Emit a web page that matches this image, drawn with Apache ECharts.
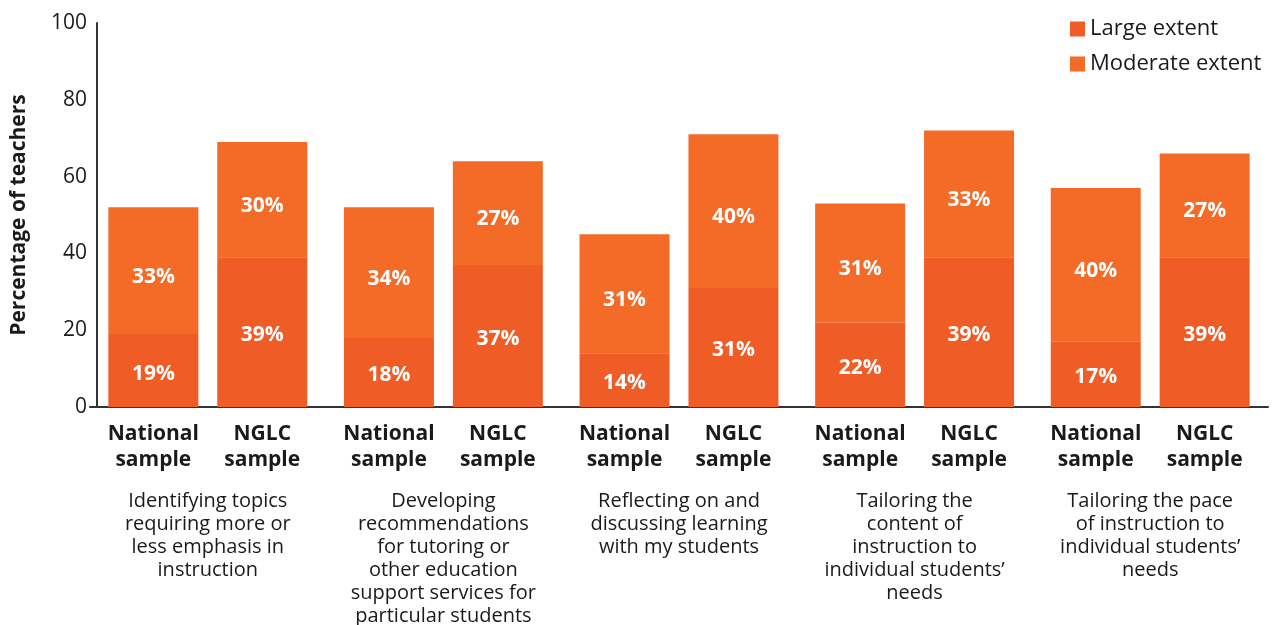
<!DOCTYPE html>
<html>
<head>
<meta charset="utf-8">
<script src="https://cdn.jsdelivr.net/npm/echarts@6/dist/echarts.min.js"></script>
<style>
  html, body { margin: 0; padding: 0; background: #fff; }
  #chart { width: 1279px; height: 625px; }
</style>
</head>
<body>
<div id="chart"></div>
<script>
// Activities teachers use data for (one group of two bars each)
const activities = [
  'Identifying topics\nrequiring more or\nless emphasis in\ninstruction',
  'Developing\nrecommendations\nfor tutoring or\nother education\nsupport services for\nparticular students',
  'Reflecting on and\ndiscussing learning\nwith my students',
  'Tailoring the\ncontent of\ninstruction to\nindividual students\u2019\nneeds',
  'Tailoring the pace\nof instruction to\nindividual students\u2019\nneeds'
];
const sampleNames = ['National\nsample', 'NGLC\nsample'];

// Percentage of teachers, by sample and extent
const nationalLarge = [19, 18, 14, 22, 17];
const nationalModerate = [33, 34, 31, 31, 40];
const nglcLarge = [39, 37, 31, 39, 39];
const nglcModerate = [30, 27, 40, 33, 27];

const yTicks = [0, 20, 40, 60, 80, 100];

const COLOR_LARGE = '#f05c26';
const COLOR_MODERATE = '#f36b27';
const FONT = '"Open Sans", "Noto Sans", sans-serif';

function valueLabel(dy) {
  return {
    show: true,
    position: 'inside',
    offset: [0, dy],
    color: '#fff',
    fontFamily: FONT,
    fontWeight: 'bold',
    fontSize: 21,
    formatter: p => p.value + '%'
  };
}

// zero-height bar at the base of each stack that carries the sample name below it
function sampleLabelSeries(stack, name) {
  return {
    type: 'bar',
    name: '_' + stack,
    stack: stack,
    data: activities.map(() => 0),
    barWidth: 90,
    barGap: '21%',
    itemStyle: { color: 'rgba(0,0,0,0)' },
    silent: true,
    label: {
      show: true,
      position: 'bottom',
      distance: 14,
      color: '#1a1a1a',
      fontFamily: FONT,
      fontWeight: 'bold',
      fontSize: 21,
      lineHeight: 26,
      formatter: () => name
    }
  };
}

function extentSeries(stack, name, data, color, dy) {
  return {
    type: 'bar',
    name: name,
    stack: stack,
    data: data,
    barWidth: 90,
    barGap: '21%',
    itemStyle: { color: color },
    label: valueLabel(dy)
  };
}

const chart = echarts.init(document.getElementById('chart'));
chart.setOption({
  animation: false,
  backgroundColor: '#fff',
  grid: { left: 90, right: 11, top: 23, bottom: 218, containLabel: false, outerBoundsMode: 'none' },
  legend: {
    data: ['Large extent', 'Moderate extent'],
    orient: 'vertical',
    left: 1065,
    top: 13,
    itemWidth: 15,
    itemHeight: 15,
    itemGap: 13,
    icon: 'rect',
    textStyle: { fontFamily: FONT, fontSize: 22, color: '#1a1a1a' }
  },
  xAxis: {
    type: 'category',
    data: activities,
    axisLine: { lineStyle: { color: '#333', width: 2 } },
    axisTick: { show: false },
    axisLabel: {
      interval: 0,
      margin: 83,
      color: '#1a1a1a',
      fontFamily: FONT,
      fontSize: 20,
      lineHeight: 23,
      align: 'center',
      verticalAlign: 'top'
    }
  },
  yAxis: {
    type: 'value',
    min: yTicks[0],
    max: yTicks[yTicks.length - 1],
    interval: yTicks[1] - yTicks[0],
    offset: -7,
    name: 'Percentage of teachers',
    nameLocation: 'middle',
    nameGap: 67,
    nameTextStyle: { fontFamily: FONT, fontWeight: 'bold', fontSize: 21, color: '#1a1a1a' },
    axisLine: { show: true, lineStyle: { color: '#333', width: 2 } },
    axisTick: { show: false },
    splitLine: { show: false },
    axisLabel: { margin: 10, color: '#1a1a1a', fontFamily: FONT, fontSize: 21 }
  },
  series: [
    sampleLabelSeries('national', sampleNames[0]),
    extentSeries('national', 'Large extent', nationalLarge, COLOR_LARGE, 3),
    extentSeries('national', 'Moderate extent', nationalModerate, COLOR_MODERATE, 6),
    sampleLabelSeries('nglc', sampleNames[1]),
    extentSeries('nglc', 'Large extent', nglcLarge, COLOR_LARGE, 3),
    extentSeries('nglc', 'Moderate extent', nglcModerate, COLOR_MODERATE, 6)
  ]
});
</script>
</body>
</html>
